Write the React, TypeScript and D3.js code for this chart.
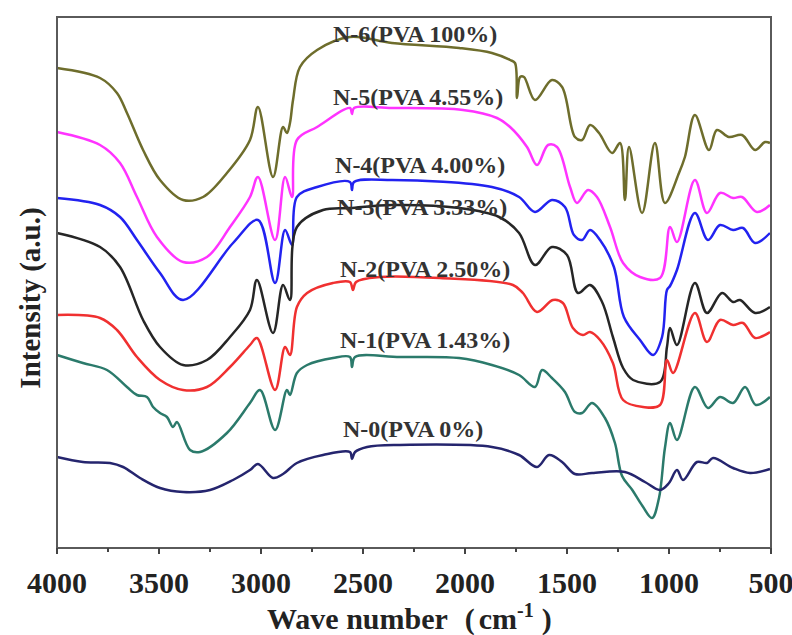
import React from 'react';
import * as d3 from 'd3';

// wavenumber (cm-1), intensity (a.u., offset stacked)
const n6 = [[4000,480],[3789,470],[3706,455],[3657,435],[3578,398],[3495,368],[3382,348],[3284,351],[3167,375],[3054,408],[3015,441],[2941,371],[2892,421],[2873,415],[2858,425],[2843,448],[2809,481],[2725,498],[2564,511],[2358,505],[2029,500],[1868,495],[1779,488],[1755,485],[1745,450],[1730,471],[1711,471],[1657,448],[1574,468],[1524,461],[1461,411],[1426,408],[1387,423],[1343,415],[1279,395],[1240,405],[1216,348],[1196,401],[1132,335],[1069,405],[1020,345],[951,375],[922,391],[873,433],[804,398],[765,418],[706,411],[642,413],[578,398],[529,406],[505,405]];
const n5 = [[4000,416],[3789,403],[3691,385],[3608,351],[3510,311],[3382,286],[3265,291],[3152,321],[3054,351],[3015,371],[2931,308],[2882,371],[2848,351],[2824,408],[2725,421],[2564,440],[2554,434],[2544,440],[2358,440],[2010,438],[1843,430],[1779,421],[1696,401],[1647,383],[1593,403],[1549,401],[1485,361],[1451,345],[1397,358],[1353,351],[1289,321],[1225,285],[1142,271],[1044,270],[995,321],[961,306],[873,368],[814,335],[750,355],[686,350],[642,351],[569,336],[505,343]];
const n4 = [[4000,350],[3789,343],[3691,331],[3608,308],[3495,275],[3382,248],[3137,305],[3015,328],[2931,265],[2882,318],[2848,303],[2824,351],[2725,361],[2564,366],[2554,358],[2544,366],[2358,368],[1868,361],[1735,351],[1657,336],[1574,348],[1510,341],[1466,313],[1426,308],[1387,318],[1338,308],[1270,281],[1221,231],[1142,208],[1078,193],[1034,211],[1010,258],[995,262],[961,278],[873,335],[809,308],[750,323],[686,318],[637,320],[578,305],[505,315]];
const n3 = [[4000,315],[3789,301],[3691,281],[3578,228],[3495,201],[3382,183],[3265,188],[3152,211],[3054,238],[3020,268],[2941,215],[2892,263],[2858,248],[2824,321],[2696,338],[2564,340],[2358,343],[2029,340],[1833,331],[1735,315],[1657,283],[1574,301],[1500,293],[1446,255],[1387,263],[1328,246],[1275,211],[1225,180],[1176,168],[1044,166],[1010,201],[995,220],[961,203],[873,265],[814,235],[740,255],[686,246],[652,248],[578,235],[505,241]];
const n2 = [[4000,233],[3789,230],[3706,218],[3608,191],[3495,168],[3382,158],[3265,161],[3152,181],[3054,203],[3020,210],[2931,158],[2882,201],[2858,193],[2824,241],[2774,255],[2647,265],[2564,266],[2549,258],[2534,266],[2417,271],[2123,270],[1765,263],[1716,255],[1647,236],[1569,248],[1520,245],[1471,220],[1422,213],[1387,216],[1338,208],[1275,185],[1225,148],[1127,141],[1044,143],[1010,188],[980,175],[873,235],[814,206],[750,228],[686,223],[637,225],[578,210],[505,216]];
const n1 = [[4000,193],[3873,185],[3755,178],[3657,161],[3608,153],[3559,151],[3529,141],[3495,135],[3461,131],[3431,121],[3412,126],[3348,98],[3299,96],[3167,115],[3054,145],[3005,158],[2931,118],[2873,158],[2858,153],[2824,175],[2774,183],[2647,190],[2564,191],[2554,181],[2539,191],[2319,191],[2029,190],[1868,183],[1735,173],[1657,161],[1622,178],[1574,170],[1510,156],[1461,136],[1426,135],[1377,145],[1314,130],[1265,105],[1230,72],[1180,58],[1130,42],[1083,30],[1049,50],[1020,100],[995,125],[961,108],[873,161],[809,140],[750,151],[686,145],[627,161],[574,143],[505,151]];
const n0 = [[4000,91],[3873,86],[3740,85],[3676,81],[3593,70],[3495,60],[3382,56],[3250,58],[3137,68],[3054,78],[3015,84],[2941,70],[2892,74],[2824,85],[2696,93],[2564,96],[2554,89],[2539,96],[2480,101],[2319,103],[1868,101],[1735,93],[1647,81],[1588,93],[1524,86],[1461,74],[1377,75],[1216,76],[1118,66],[1044,58],[1000,65],[961,78],[931,68],[863,86],[814,85],[784,90],[686,80],[603,75],[505,79]];

const series = [n6, n5, n4, n3, n2, n1, n0];
const seriesColors = ['#6e6d2c', '#ff33ff', '#2222f0', '#262626', '#f03030', '#2b7a6b', '#25256e'];
const seriesLabels = ['N-6(PVA 100%)', 'N-5(PVA 4.55%)', 'N-4(PVA 4.00%)', 'N-3(PVA 3.33%)', 'N-2(PVA 2.50%)', 'N-1(PVA 1.43%)', 'N-0(PVA 0%)'];
// label anchor: wavenumber at text start, intensity at baseline
const labelPos = [[2647, 506], [2647, 443], [2637, 375], [2627, 333], [2613, 271], [2613, 200], [2598, 111]];
const xTicks = [4000, 3500, 3000, 2500, 2000, 1500, 1000, 500];

export default function App() {
  const width = 792;
  const height = 635;
  const left = 57, right = 771, top = 17, bottom = 548;

  const x = d3.scaleLinear().domain([4000, 500]).range([left, right]);
  const y = d3.scaleLinear().domain([0, 531]).range([bottom, top]);

  const line = d3.line<number[]>()
    .x(d => x(d[0]))
    .y(d => y(d[1]))
    .curve(d3.curveCatmullRom.alpha(0.5));

  const minor = d3.range(4000, 499, -250).filter(v => !xTicks.includes(v));
  const font = '"Liberation Serif", "Times New Roman", serif';

  return (
    <svg width={width} height={height} style={{ position: 'absolute', left: 0, top: 0, background: '#fff' }}>
      {series.map((s, i) => (
        <path key={i} d={line(s) || ''} fill="none" stroke={seriesColors[i]} strokeWidth={2.5} strokeLinejoin="round" />
      ))}
      {seriesLabels.map((t, i) => (
        <text key={t} x={x(labelPos[i][0])} y={y(labelPos[i][1])} fontFamily={font} fontWeight="bold" fontSize={24} fill="#333">{t}</text>
      ))}
      <rect x={left} y={top} width={right - left} height={bottom - top} fill="none" stroke="#5a5a5a" strokeWidth={2} />
      {xTicks.map(t => (
        <g key={t}>
          <line x1={x(t)} x2={x(t)} y1={bottom} y2={bottom + 6} stroke="#444" strokeWidth={2} />
          <text x={x(t)} y={bottom + 45} textAnchor="middle" fontFamily={font} fontWeight="bold" fontSize={30} fill="#222">{t}</text>
        </g>
      ))}
      {minor.map(t => (
        <line key={t} x1={x(t)} x2={x(t)} y1={bottom} y2={bottom + 4} stroke="#444" strokeWidth={2} />
      ))}
      <text x={267} y={629} fontFamily={font} fontWeight="bold" fontSize={30} fill="#222">
        Wave number <tspan dx={10}>(</tspan><tspan dx={4}>cm</tspan><tspan dy={-12} fontSize={20}>-1</tspan><tspan dy={12} dx={8}>)</tspan>
      </text>
      <text transform="translate(40,298) rotate(-90)" textAnchor="middle" fontFamily={font} fontWeight="bold" fontSize={29} fill="#222">Intensity (a.u.)</text>
    </svg>
  );
}
